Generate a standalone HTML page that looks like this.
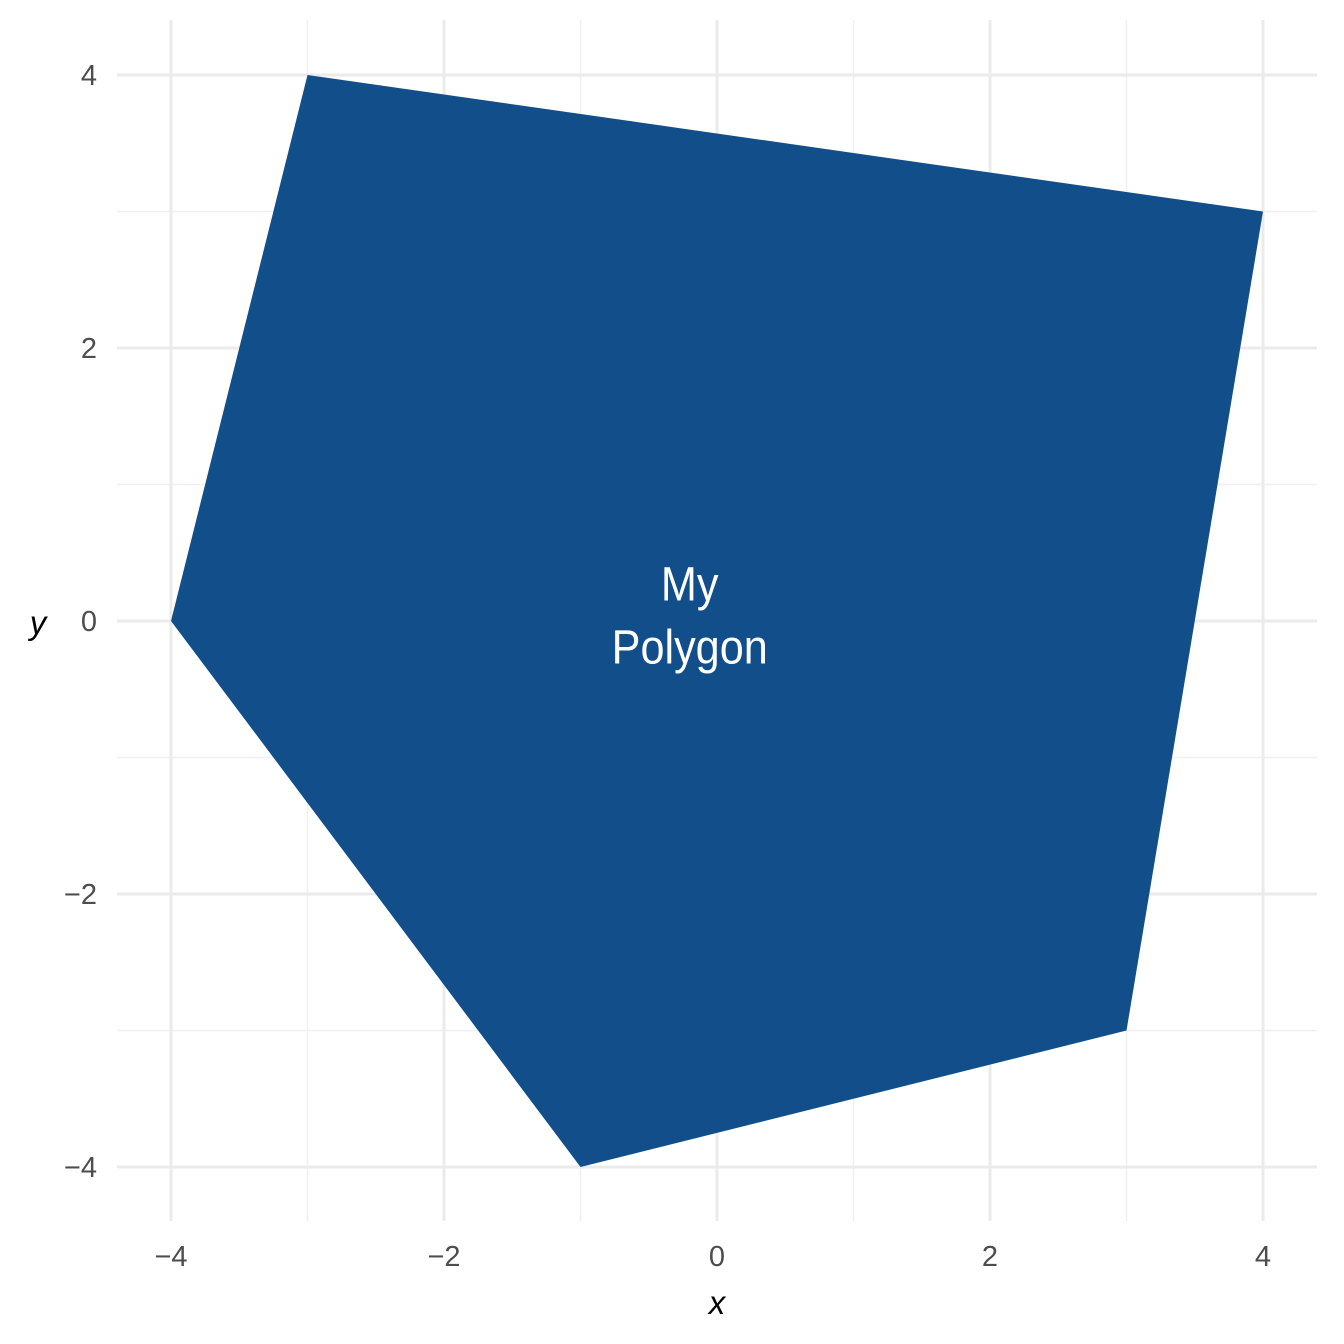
<!DOCTYPE html>
<html><head><meta charset="utf-8"><style>
body{margin:0;background:#fff}
svg{display:block;font-family:"Liberation Sans",sans-serif}
</style></head><body>
<svg id="chart" width="1344" height="1344" viewBox="0 0 1344 1344">
<g id="grid"></g>
<g id="marks"></g>
<g id="axes"></g>
<text x="717" y="1314" font-size="33" font-style="italic" text-anchor="middle" fill="#000">x</text>
<text x="38" y="634" font-size="33" font-style="italic" text-anchor="middle" fill="#000">y</text>
</svg>
<script>
const xs=[-3,4,3,-1,-4];
const ys=[4,3,-3,-4,0];
const xTicks=[-4,-2,0,2,4];
const yTicks=[-4,-2,0,2,4];
const xMinor=[-3,-1,1,3];
const yMinor=[-3,-1,1,3];
const labelLines=["My","Polygon"];
const labelPos=[-0.2,0.1];
const NS="http://www.w3.org/2000/svg";
const X=v=>717+v*136.5, Y=v=>621-v*136.5;
function mk(t,a,p){const e=document.createElementNS(NS,t);for(const k in a)e.setAttribute(k,a[k]);p.appendChild(e);return e;}
const g=document.getElementById('grid'),m=document.getElementById('marks'),ax=document.getElementById('axes');
xMinor.forEach(v=>{const l=mk('line',{x1:X(v),x2:X(v),y1:20,y2:1221,stroke:'#f0f0f0','stroke-width':1.5},g);

});
yMinor.forEach(v=>{const l=mk('line',{y1:Y(v),y2:Y(v),x1:117,x2:1317,stroke:'#f0f0f0','stroke-width':1.5},g);

});
xTicks.forEach(v=>{const l=mk('line',{x1:X(v),x2:X(v),y1:20,y2:1221,stroke:'#ebebeb','stroke-width':3},g);


const t=mk('text',{x:X(v),y:1266,'font-size':29,'text-anchor':'middle',fill:'#4d4d4d'},ax);t.textContent=String(v).replace('-','\u2212');

});
yTicks.forEach(v=>{const l=mk('line',{y1:Y(v),y2:Y(v),x1:117,x2:1317,stroke:'#ebebeb','stroke-width':3},g);


const t=mk('text',{x:97,y:Y(v)+10,'font-size':29,'text-anchor':'end',fill:'#4d4d4d'},ax);t.textContent=String(v).replace('-','\u2212');

});
const poly=mk('polygon',{points:xs.map((x,i)=>X(x)+','+Y(ys[i])).join(' '),fill:'#114e8a'},m);


labelLines.forEach((s,i)=>{const t=mk('text',{x:0,y:0,'font-size':48,'text-anchor':'middle',fill:'#fff',transform:`translate(${X(labelPos[0])},${Y(labelPos[1])-7+i*63}) scale(0.9,1)`},m);t.textContent=s;

});
</script>
</body></html>
